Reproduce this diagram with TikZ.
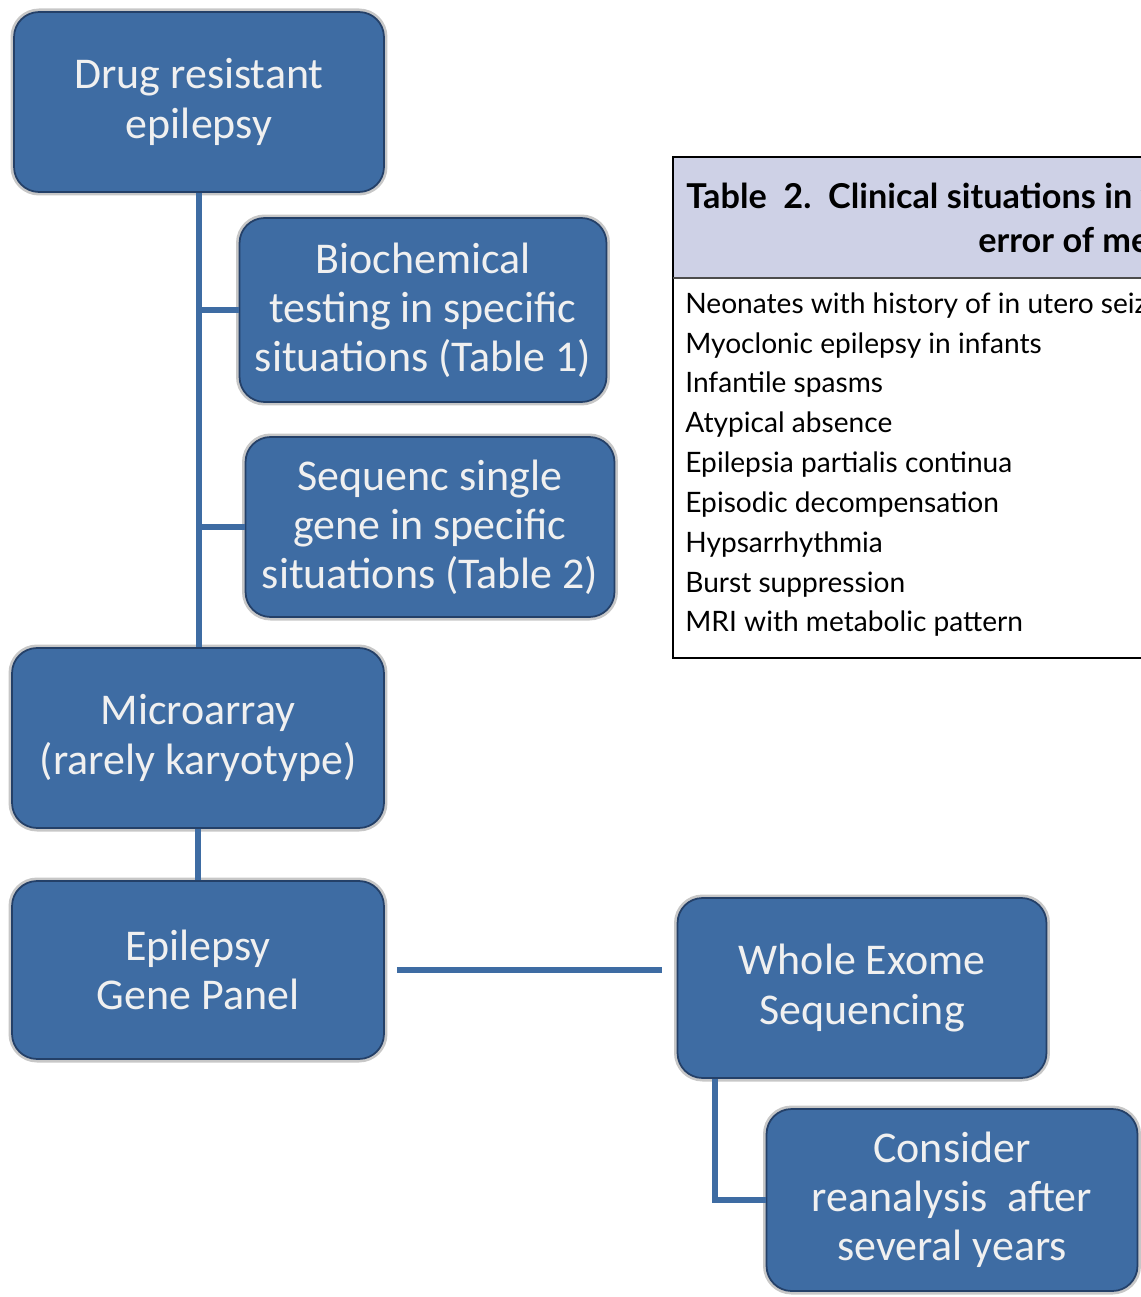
\documentclass[tikz,border=0pt]{standalone}
\usepackage{fontspec}
\setmainfont{Carlito}
\newfontfamily\tabfont{Lato}
\usetikzlibrary{positioning}
\definecolor{boxblue}{RGB}{62,108,163}
\definecolor{boxedge}{RGB}{36,64,104}
\definecolor{headfill}{RGB}{206,209,230}

\begin{document}
\begin{tikzpicture}[x=0.02cm, y=-0.02cm,
	stepbox/.style={draw=boxedge, line width=1pt, fill=boxblue, rounded corners=0.5cm, minimum width=7.4cm, minimum height=3.6cm, align=center, text=white!94!black, font=\fontsize{25}{28}\selectfont, preaction={draw=black!22, line width=4pt}},
	link/.style={draw=boxblue, line width=3.4pt},
	row/.style={anchor=west, inner sep=0pt, font=\tabfont\fontsize{16}{19}\selectfont}]

	\useasboundingbox (0,0) rectangle (1141,1297);
	\clip (0,0) rectangle (1141,1297);

	% flow boxes
	\node[stepbox] (drug) at (199,102) {Drug resistant\\epilepsy};
	\node[stepbox, minimum width=7.34cm, minimum height=3.68cm] (bio) at (423,310) {Biochemical\\testing in specific\\situations (Table 1)};
	\node[stepbox, minimum width=7.38cm] (seq) at (430,527) {Sequenc single\\gene in specific\\situations (Table 2)};
	\node[stepbox, minimum width=7.44cm] (micro) at (198,738) {Microarray\\(rarely karyotype)};
	\node[stepbox, minimum width=7.44cm, minimum height=3.56cm] (panel) at (198,970) {Epilepsy\\Gene Panel};
	\node[stepbox, minimum width=7.38cm] (wes) at (862,988) {Whole Exome\\Sequencing};
	\node[stepbox, minimum width=7.42cm, minimum height=3.64cm] (cons) at (952,1200) {Consider\\reanalysis~~after\\several years};

	% connectors
	\draw[link] (drug.south) -- (drug.south |- micro.north);
	\draw[link] (drug.south |- bio.west) -- (bio.west);
	\draw[link] (drug.south |- seq.west) -- (seq.west);
	\draw[link] (micro.south) -- (panel.north);
	\draw[link, shorten <=0.24cm, shorten >=0.3cm] (panel.east) -- (panel.east -| wes.west);
	\draw[link] ([xshift=0.76cm]wes.south west) |- (cons.west);

	% table 2
	\fill[headfill] (673,157) rectangle (1160,278);
	\draw[line width=1.6pt] (1160,157) -- (673,157) -- (673,658) -- (1160,658);
	\draw[line width=0.8pt, black!70] (673,278) -- (1160,278);
	\node[anchor=west, inner sep=0pt, font=\tabfont\bfseries\fontsize{19.5}{23}\selectfont] (tabtitle) at (686,196) {Table~~2.~~Clinical situations in which};
	\node[anchor=west, inner sep=0pt, font=\tabfont\bfseries\fontsize{19.5}{23}\selectfont] (tabtitleb) at (978,240) {error of metabolism};

	\node[row] (r1) at (685,306) {Neonates with history of in utero seizures};
	\node[row] (r2) at (685,346) {Myoclonic epilepsy in infants};
	\node[row] (r3) at (685,385) {Infantile spasms};
	\node[row] (r4) at (685,425) {Atypical absence};
	\node[row] (r5) at (685,465) {Epilepsia partialis continua};
	\node[row] (r6) at (685,505) {Episodic decompensation};
	\node[row] (r7) at (685,545) {Hypsarrhythmia};
	\node[row] (r8) at (685,585) {Burst suppression};
	\node[row] (r9) at (685,624) {MRI with metabolic pattern};
\end{tikzpicture}
\end{document}
